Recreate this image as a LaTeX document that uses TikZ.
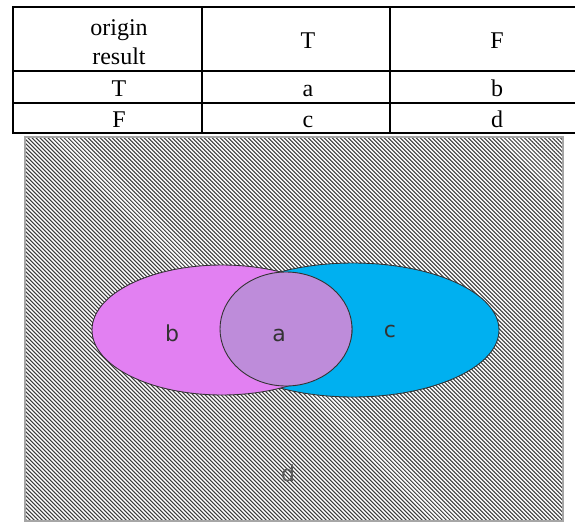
\documentclass[tikz,border=0pt]{standalone}
\usepackage{fontspec}
\setmainfont{Liberation Serif}
\newfontfamily\setfont{DejaVu Sans}
\usetikzlibrary{patterns.meta}
\definecolor{setB}{RGB}{226,128,242}
\definecolor{setC}{RGB}{0,176,240}
\definecolor{setA}{RGB}{190,140,218}
\definecolor{hatch}{RGB}{60,60,60}
\tikzset{
  rule/.style={line width=1.5pt},
  cell/.style={font=\fontsize{24}{29}\selectfont, align=center, inner sep=0pt, anchor=base},
  setline/.style={draw=black!80, line width=0.9pt},
  setlabel/.style={font=\setfont\fontsize{22}{26}\selectfont, text=black!80, inner sep=0pt, anchor=base}
}
\begin{document}
\begin{tikzpicture}[x=1pt,y=-1pt]
  \useasboundingbox (0,0) rectangle (575,522);
  % the table
  \foreach \y in {7,71,103,133}
    \draw[rule] (12.25,\y) -- (578,\y);
  \foreach \x in {13,202,390}
    \draw[rule] (\x,6.25) -- (\x,133.75);
  \node[cell] (head) at (119,64) {origin\\result};
  \node[cell] (colT) at (308,48) {T};
  \node[cell] (colF) at (497,48) {F};
  \node[cell] (rowT) at (119,96) {T};
  \node[cell] (cellA) at (308,96) {a};
  \node[cell] (cellB) at (497,96) {b};
  \node[cell] (rowF) at (119,127) {F};
  \node[cell] (cellC) at (308,127) {c};
  \node[cell] (cellD) at (497,127) {d};
  % the universe, hatched
  \fill[white] (25,137) rectangle (563,521);
  \pattern[pattern={Lines[angle=-45,distance=2.83pt,line width=1.05pt]}, pattern color=hatch]
    (25,137) rectangle (563,521);
  \draw[gray!70, line width=1.5pt] (25,137) rectangle (563,521);
  % c
  \filldraw[setline, fill=setC] (353,330) ellipse [x radius=146, y radius=67];
  % b
  \filldraw[setline, fill=setB] (222,330) ellipse [x radius=130, y radius=65];
  % a
  \filldraw[setline, fill=setA] (286,329) ellipse [x radius=66, y radius=57];
  % labels
  \node[setlabel] (labB) at (172,341) {b};
  \node[setlabel] (labA) at (279,341) {a};
  \node[setlabel] (labC) at (390,337) {c};
  \node[setlabel, text=black!65] (labD) at (288,481) {d};
\end{tikzpicture}
\end{document}
